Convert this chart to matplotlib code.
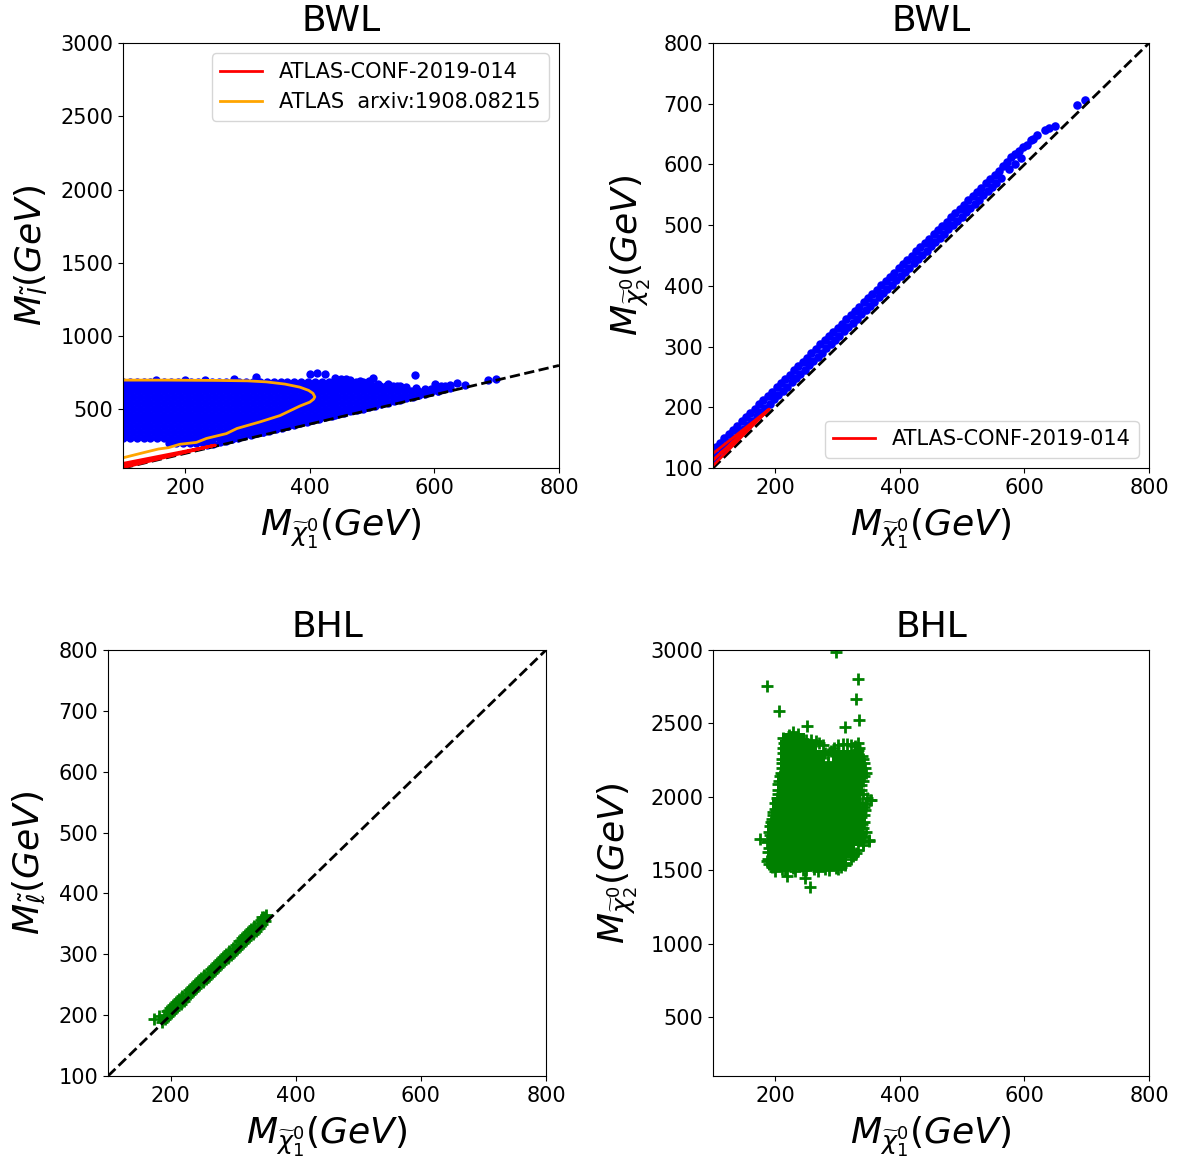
import matplotlib
matplotlib.use("Agg")
import matplotlib.pyplot as plt

# ---------------- BWL : slepton mass vs neutralino-1 mass ----------------
# scan points, stored row by row (slepton mass level, neutralino masses)
tl_rows_y = [270, 305, 345, 385, 425, 465, 505, 545, 585, 625, 660, 690]
tl_rows_x = [
    [174, 185, 196, 207, 218, 229, 240],
    [100, 111, 122, 133, 144, 155, 166, 177, 188, 199, 210, 221, 232, 243, 254, 265, 276],
    [105, 116, 127, 138, 149, 160, 171, 182, 193, 204, 215, 226, 237, 248, 259, 270, 281,
     292, 303, 314, 325],
    [100, 111, 122, 133, 144, 155, 166, 177, 188, 199, 210, 221, 232, 243, 254, 265, 276,
     287, 298, 309, 320, 331, 342, 353, 364],
    [105, 116, 127, 138, 149, 160, 171, 182, 193, 204, 215, 226, 237, 248, 259, 270, 281,
     292, 303, 314, 325, 336, 347, 358, 369, 380, 391, 402],
    [100, 111, 122, 133, 144, 155, 166, 177, 188, 199, 210, 221, 232, 243, 254, 265, 276,
     287, 298, 309, 320, 331, 342, 353, 364, 375, 386, 397, 408, 419, 430, 441],
    [105, 116, 127, 138, 149, 160, 171, 182, 193, 204, 215, 226, 237, 248, 259, 270, 281,
     292, 303, 314, 325, 336, 347, 358, 369, 380, 391, 402, 413, 424, 435, 446, 457, 468, 479],
    [100, 111, 122, 133, 144, 155, 166, 177, 188, 199, 210, 221, 232, 243, 254, 265, 276,
     287, 298, 309, 320, 331, 342, 353, 364, 375, 386, 397, 408, 419, 430, 441, 452, 463,
     474, 485, 496, 507, 518],
    [105, 116, 127, 138, 149, 160, 171, 182, 193, 204, 215, 226, 237, 248, 259, 270, 281,
     292, 303, 314, 325, 336, 347, 358, 369, 380, 391, 402, 413, 424, 435, 446, 457, 468,
     479, 490, 501, 512, 523, 534, 545, 556],
    [100, 111, 122, 133, 144, 155, 166, 177, 188, 199, 210, 221, 232, 243, 254, 265, 276,
     287, 298, 309, 320, 331, 342, 353, 364, 375, 386, 397, 408, 419, 430, 441, 452, 463,
     474, 485, 496, 507, 518, 529, 540, 551, 562, 573, 584, 595, 606],
    [105, 116, 127, 138, 149, 160, 171, 182, 193, 204, 215, 226, 237, 248, 259, 270, 281,
     292, 303, 314, 325, 336, 347, 358, 369, 380, 391, 402, 413, 424, 435, 446, 457, 468,
     479, 490, 501, 512, 523, 534, 545],
    [100, 111, 122, 133, 144, 155, 166, 177, 188, 199, 210, 221, 232, 243, 254, 265, 276,
     287, 298, 309, 320, 331, 342, 353, 364, 375, 386, 397, 408, 419, 430, 441, 452, 463,
     474, 485, 496],
]
# points hugging the degenerate line
tl_edge_x = [235, 245, 255, 265, 275, 285, 295, 305, 315, 325, 335, 345, 355, 365, 375, 385,
             395, 405, 415, 425, 435, 445, 455, 465, 475, 485, 495, 505, 515, 525, 535, 545,
             555, 565, 575, 585, 595, 605, 615, 625]
tl_edge_y = [256, 266, 277, 286, 296, 307, 316, 326, 337, 346, 356, 367, 376, 386, 397, 406,
             416, 427, 436, 446, 457, 466, 476, 487, 496, 506, 517, 526, 536, 547, 556, 566,
             577, 586, 596, 607, 616, 626, 637, 646]
# upper fringe and isolated points
tl_top_x = [153, 199, 231, 279, 314, 400, 412, 425, 440, 450, 458, 465, 480, 495, 501, 510,
            525, 540, 555, 570, 585, 595, 605, 601, 610, 617, 625, 636, 649, 686, 699, 569]
tl_top_y = [700, 700, 702, 708, 722, 745, 750, 745, 712, 708, 705, 700, 695, 692, 712, 675,
            672, 662, 655, 645, 640, 638, 650, 675, 662, 659, 668, 680, 665, 698, 705, 734]

# exclusion contours
atlas19_tl_x = [100, 248, 100, 248, 100]
atlas19_tl_y = [102, 256, 117, 256, 132]
atlas1908_x = [100, 133, 157, 173, 191, 218, 234, 266, 283, 320, 352, 384, 400, 406, 408,
               405, 398, 384, 360, 330, 300, 250, 170, 100]
atlas1908_y = [170, 205, 230, 239, 262, 275, 302, 335, 370, 415, 458, 523, 550, 570, 586,
               610, 630, 652, 673, 688, 695, 698, 700, 700]

# ---------------- BWL : neutralino-2 vs neutralino-1 ----------------
tr_a_x = [100, 107, 114, 121, 128, 135, 142, 149, 156, 163, 170, 177, 184, 191, 198, 205,
          212, 219, 226, 233, 240, 247, 254, 261, 268, 275, 282, 289, 296, 303, 310, 317,
          324, 331, 338, 345, 352, 359, 366, 373, 380, 387, 394, 401, 408, 415, 422, 429,
          436, 443, 450, 457, 464, 471, 478, 485, 492, 499, 506, 513, 520, 527, 534, 541,
          548, 555, 562]
tr_a_y = [115, 122, 129, 136, 143, 150, 157, 164, 171, 178, 185, 192, 199, 206, 213, 220,
          227, 234, 241, 248, 255, 262, 269, 276, 283, 290, 297, 304, 311, 318, 325, 332,
          339, 346, 353, 360, 367, 374, 381, 388, 395, 402, 409, 416, 423, 430, 437, 444,
          451, 458, 465, 472, 479, 486, 493, 500, 507, 514, 521, 528, 535, 542, 549, 556,
          563, 570, 577]
tr_b_x = [104, 111, 118, 125, 132, 139, 146, 153, 160, 167, 174, 181, 188, 195, 202, 209,
          216, 223, 230, 237, 244, 251, 258, 265, 272, 279, 286, 293, 300, 307, 314, 321,
          328, 335, 342, 349, 356, 363, 370, 377, 384, 391, 398, 405, 412, 419, 426, 433,
          440, 447, 454, 461, 468, 475, 482, 489, 496, 503, 510, 517, 524, 531, 538, 545,
          552, 559]
tr_b_y = [135, 142, 149, 156, 163, 170, 177, 184, 191, 198, 205, 212, 219, 226, 233, 240,
          247, 254, 261, 268, 275, 282, 289, 296, 304, 311, 317, 324, 331, 338, 345, 352,
          359, 366, 373, 380, 387, 394, 401, 408, 415, 422, 429, 436, 443, 450, 457, 464,
          471, 478, 485, 492, 499, 506, 513, 520, 527, 534, 541, 548, 555, 562, 569, 576,
          583, 590]
tr_tail_x = [566, 572, 575, 578, 585, 585, 592, 595, 598, 604, 610, 614, 620, 633, 640, 649,
             685, 697]
tr_tail_y = [598, 604, 592, 612, 618, 600, 622, 610, 628, 632, 640, 642, 648, 657, 660, 663,
             698, 706]
atlas19_tr_x = [100, 190, 100, 190, 100]
atlas19_tr_y = [124, 197, 113, 197, 104]

# ---------------- BHL : slepton vs neutralino-1 ----------------
bl_a_x = [186, 191, 196, 201, 206, 211, 216, 221, 226, 231, 236, 241, 246, 251, 256, 261,
          266, 271, 276, 281, 286, 291, 296, 301, 306, 311, 316, 321, 326, 331, 336, 341,
          346, 351]
bl_a_y = [189, 194, 199, 204, 209, 214, 219, 224, 229, 234, 239, 244, 249, 254, 259, 264,
          269, 274, 279, 284, 289, 294, 299, 304, 309, 314, 319, 324, 329, 334, 339, 344,
          349, 354]
bl_b_x = [189, 194, 199, 204, 209, 214, 219, 224, 229, 234, 239, 244, 249, 254, 259, 264,
          269, 274, 279, 284, 289, 294, 299, 304, 309, 314, 319, 324, 329, 334, 339, 344, 349]
bl_b_y = [201, 206, 211, 216, 221, 226, 231, 236, 241, 246, 251, 256, 261, 266, 271, 276,
          281, 286, 291, 296, 301, 306, 311, 316, 321, 326, 331, 336, 341, 346, 351, 356, 361]
bl_extra_x = [173, 181, 346, 352]
bl_extra_y = [193, 198, 362, 364]

# ---------------- BHL : neutralino-2 vs neutralino-1 ----------------
br_core_y = [1550, 1630, 1710, 1790, 1870, 1950, 2030, 2110, 2190, 2270, 2340, 2385]
br_core_x = [
    [200, 218, 236, 254, 272, 290, 304],
    [198, 216, 234, 252, 270, 288, 306, 316],
    [198, 216, 234, 252, 270, 288, 306, 324, 332],
    [198, 216, 234, 252, 270, 288, 306, 324, 330],
    [204, 222, 240, 258, 276, 292, 308, 326],
    [206, 224, 242, 260, 278, 296, 314, 326],
    [214, 232, 250, 268, 286, 304, 322, 327],
    [214, 232, 250, 268, 286, 304, 322, 330],
    [219, 237, 255, 270, 286, 302, 318, 332],
    [219, 237, 255, 268, 302, 318, 330],
    [219, 237, 255],
    [222, 236],
]
br_edge_x = [195, 210, 228, 245, 262, 280, 298, 312,
             186, 188, 186, 190, 193, 196, 200, 204, 205, 209, 210, 212, 214, 222, 236,
             250, 265, 276, 285, 295, 308, 322, 333,
             340, 344, 343, 338, 340, 352, 345, 338, 330, 335, 342, 345, 350, 340, 330, 322,
             190, 188, 190, 189, 191, 192, 195, 197, 199, 202, 205, 206, 208, 210, 211, 212, 213,
             200, 216, 232, 250, 268, 286, 300, 306,
             325, 333, 340, 343, 341, 338, 342, 344, 339, 347, 337, 340, 346, 342, 339, 334,
             228, 245, 258, 270, 280, 290, 300, 315, 328, 285,
             187, 206, 298, 333, 329, 335, 251, 312, 332, 175, 255, 219, 247, 310, 350, 339,
             353, 342]
br_edge_y = [1520, 1508, 1515, 1505, 1512, 1508, 1515, 1535,
             1565, 1625, 1690, 1760, 1830, 1900, 1960, 2020, 2090, 2160, 2230, 2300, 2370,
             2420, 2428,
             2385, 2380, 2350, 2290, 2335, 2360, 2355, 2320,
             2260, 2200, 2140, 2080, 2020, 1977, 1950, 1900, 1870, 1850, 1830, 1760, 1705,
             1670, 1620, 1580,
             1540, 1580, 1650, 1700, 1740, 1800, 1850, 1880, 1920, 1990, 2050, 2110, 2140,
             2200, 2260, 2330, 2400,
             1495, 1500, 1498, 1502, 1496, 1503, 1510, 1525,
             1600, 1640, 1690, 1730, 1790, 1860, 1880, 1910, 1960, 1990, 2050, 2110, 2160,
             2230, 2280, 2330,
             2440, 2395, 2390, 2370, 2300, 2310, 2350, 2362, 2345, 2240,
             2757, 2586, 2989, 2800, 2666, 2523, 2484, 2477, 2364, 1711, 1386, 1459, 1450,
             1550, 1698, 1814, 1977, 1932]

diag = [100, 800]
x_ticks = [200, 400, 600, 800]

xlab = r'$M_{\widetilde{\chi}_1^0}(GeV)$'
plt.rcParams['xtick.labelsize'] = 15
plt.rcParams['ytick.labelsize'] = 15


def flatten(rows_y, rows_x):
    xs, ys = [], []
    for yv, row in zip(rows_y, rows_x):
        xs += row
        ys += [yv] * len(row)
    return xs, ys


fig = plt.figure(figsize=(11.78, 11.64), dpi=100)
ax1 = fig.add_axes([0.1044, 0.5979, 0.3701, 0.3651])
ax2 = fig.add_axes([0.6053, 0.5979, 0.3701, 0.3651])
ax3 = fig.add_axes([0.0917, 0.0756, 0.3718, 0.3660])
ax4 = fig.add_axes([0.6053, 0.0756, 0.3701, 0.3660])

# top left
px, py = flatten(tl_rows_y, tl_rows_x)
ax1.scatter(px + tl_edge_x + tl_top_x, py + tl_edge_y + tl_top_y, s=36, c='blue', linewidths=0)
ax1.plot(diag, diag, 'k--', lw=2)
ax1.plot(atlas19_tl_x, atlas19_tl_y, color='red', lw=2, label='ATLAS-CONF-2019-014')
ax1.plot(atlas1908_x, atlas1908_y, color='orange', lw=2, label='ATLAS  arxiv:1908.08215')
ax1.set_ylim(100, 3000)
ax1.set_title('BWL', fontsize=26, pad=9)
ax1.set_ylabel(r'$M_{\tilde{l}}(GeV)$', fontsize=26, labelpad=8)
ax1.legend(loc='upper right', fontsize=15)

# top right
ax2.scatter(tr_a_x + tr_b_x + tr_tail_x, tr_a_y + tr_b_y + tr_tail_y, s=38, c='blue', linewidths=0)
ax2.plot(diag, diag, 'k--', lw=2)
ax2.plot(atlas19_tr_x, atlas19_tr_y, color='red', lw=2, label='ATLAS-CONF-2019-014')
ax2.set_ylim(100, 800)
ax2.set_title('BWL', fontsize=26, pad=9)
ax2.set_ylabel(r'$M_{\widetilde{\chi}_2^0}(GeV)$', fontsize=26, labelpad=8)
ax2.legend(loc='lower right', fontsize=15)

# bottom left
ax3.scatter(bl_a_x + bl_b_x + bl_extra_x, bl_a_y + bl_b_y + bl_extra_y, s=80, c='green',
            marker='+', linewidths=2)
ax3.plot(diag, diag, 'k--', lw=2)
ax3.set_ylim(100, 800)
ax3.set_title('BHL', fontsize=26, pad=9)
ax3.set_ylabel(r'$M_{\tilde{\ell}}(GeV)$', fontsize=26, labelpad=8)

# bottom right
cx, cy = flatten(br_core_y, br_core_x)
ax4.scatter(cx, cy, s=100, c='green', marker='s', linewidths=0)
ax4.scatter(br_edge_x, br_edge_y, s=80, c='green', marker='+', linewidths=2)
ax4.set_ylim(100, 3000)
ax4.set_title('BHL', fontsize=26, pad=9)
ax4.set_ylabel(r'$M_{\widetilde{\chi}_2^0}(GeV)$', fontsize=26, labelpad=8)

for ax in (ax1, ax2, ax3, ax4):
    ax.set_xlim(100, 800)
    ax.set_xticks(x_ticks)
    ax.set_xlabel(xlab, fontsize=26, labelpad=6)

fig.savefig('out.png', dpi=100)
